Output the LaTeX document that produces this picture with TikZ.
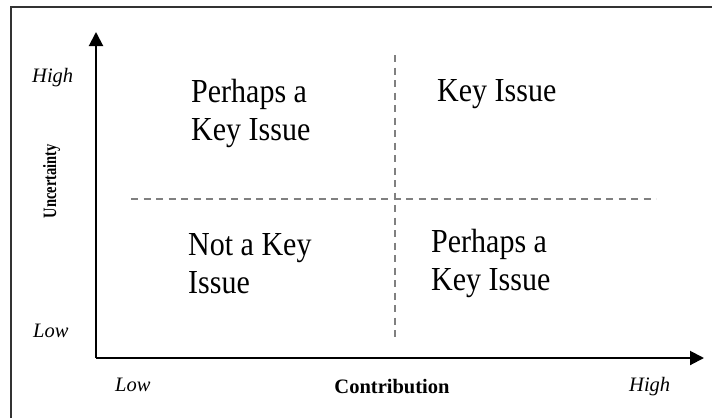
\documentclass[tikz,border=0pt]{standalone}
\usepackage{fontspec}
\setmainfont{Liberation Serif}
\usetikzlibrary{arrows.meta}
\tikzset{
  axis/.style={line width=2pt, line join=miter, -{Triangle[length=14pt,width=14pt]}},
  divider/.style={draw=black!50, line width=1.3pt, dash pattern=on 7pt off 5.5pt},
  frameline/.style={draw=black!80, line width=1.6pt},
  quad/.style={anchor=north west, inner sep=0pt, align=left, yscale=1.12, font=\fontsize{30}{34}\selectfont},
  lvl/.style={anchor=base west, inner sep=0pt, font=\fontsize{20.5}{24}\selectfont\itshape},
  axlabel/.style={inner sep=0pt, font=\fontsize{20.5}{24}\selectfont\bfseries},
}
\begin{document}
\begin{tikzpicture}[x=1pt,y=-1pt]
\useasboundingbox (0,0) rectangle (712,418);
% frame (top and left edges only)
\coordinate (fbl) at (11,418);
\coordinate (ftl) at (11,7);
\coordinate (ftr) at (712,7);
\draw[frameline] (fbl) -- (ftl) -- (ftr);
% axes
\coordinate (ytip) at (96,32);
\coordinate (origin) at (96,358);
\coordinate (xtip) at (704,358);
\draw[axis] (origin) -- (ytip);
\draw[axis] (origin) -- (xtip);
% dividers
\coordinate (vtop) at (395,55);
\coordinate (vbot) at (395,338);
\coordinate (hleft) at (131,199);
\coordinate (hright) at (656,199);
\draw[divider] (vtop) -- (vbot);
\draw[divider] (hleft) -- (hright);
% quadrant texts
\node[quad] (tl) at (191,79) {Perhaps a\\Key Issue};
\node[quad] (tr) at (437,79.7) {Key Issue};
\node[quad] (bl) at (188,233) {Not a Key\\Issue};
\node[quad] (br) at (431,229) {Perhaps a\\Key Issue};
% level labels
\node[lvl] (yhigh) at (32,82) {High};
\node[lvl] (ylow) at (33,337) {Low};
\node[lvl] (xlow) at (115,391) {Low};
\node[lvl] (xhigh) at (629,391) {High};
% axis titles
\node[axlabel, anchor=base] (xtitle) at (392,393) {Contribution};
\node[axlabel, rotate=90, anchor=base, font=\fontsize{14.5}{17}\selectfont\bfseries] (ytitle) at (56,181) {\scalebox{1}[1.3]{Uncertainty}};
\end{tikzpicture}
\end{document}
